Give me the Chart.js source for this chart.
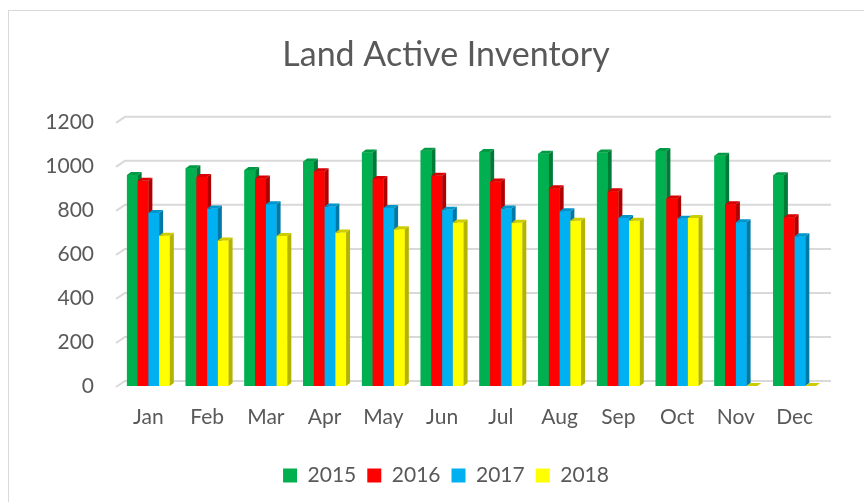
<!DOCTYPE html>
<html>
<head>
<meta charset="utf-8">
<title>Land Active Inventory</title>
<style>
  html, body { margin: 0; padding: 0; background: #fff; }
  #wrap { position: relative; width: 864px; height: 502px; }
</style>
<script src="https://cdn.jsdelivr.net/npm/chart.js@4.4.1/dist/chart.umd.min.js"></script>
</head>
<body>
<div id="wrap"><canvas id="c" width="864" height="502"></canvas></div>
<script>
// 数据
var months = ['Jan', 'Feb', 'Mar', 'Apr', 'May', 'Jun', 'Jul', 'Aug', 'Sep', 'Oct', 'Nov', 'Dec'];
var years = ['2015', '2016', '2017', '2018'];
var yTicks = [0, 200, 400, 600, 800, 1000, 1200];

var v2015 = [958, 989, 981, 1020, 1060, 1069, 1063, 1055, 1060, 1067, 1046, 957];
var v2016 = [932, 949, 943, 975, 940, 955, 929, 898, 884, 852, 825, 766];
var v2017 = [786, 806, 826, 815, 809, 800, 806, 794, 763, 760, 744, 680];
var v2018 = [683, 661, 681, 697, 712, 743, 741, 751, 751, 763, 0, 0];

// 颜色：正面 / 侧面 / 顶面
var fronts = ['#00B050', '#FF0000', '#00B0F0', '#FFFF00'];
var sides  = ['#007A37', '#B00000', '#0079A6', '#B3B300'];
var tops   = ['#009A45', '#D80000', '#0096CC', '#CCCC00'];

var TEXT = '#595959';
var FONT = 'Lato, "Open Sans", sans-serif';
var DX = 4, DY = 3; // 立体深度

// 外框
var frame = {
  id: 'frame',
  beforeDraw: function (chart) {
    var ctx = chart.ctx;
    ctx.save();
    ctx.strokeStyle = '#d9d9d9';
    ctx.lineWidth = 1;
    ctx.strokeRect(8.5, 10.5, 880, 520);
    ctx.restore();
  }
};

// y轴标签不裁剪
var unclip = {
  id: 'unclip',
  afterLayout: function (chart) {
    chart.scales.y.left = 0;
  }
};

// 背墙网格线
var backGrid = {
  id: 'backGrid',
  beforeDatasetsDraw: function (chart) {
    var ys = chart.scales.y, a = chart.chartArea, ctx = chart.ctx;
    ctx.save();
    ctx.strokeStyle = '#d9d9d9';
    ctx.lineWidth = 2;
    yTicks.forEach(function (v) {
      var y = ys.getPixelForValue(v);
      ctx.beginPath();
      ctx.moveTo(a.left - 3, y + 1);
      ctx.lineTo(a.left + 6, y - 5);
      ctx.lineTo(a.right + 7, y - 5);
      ctx.stroke();
    });
    ctx.restore();
  }
};

// 立体柱
var bar3d = {
  id: 'bar3d',
  afterDatasetsDraw: function (chart) {
    var ctx = chart.ctx;
    ctx.save();
    chart.data.datasets.forEach(function (ds, i) {
      var meta = chart.getDatasetMeta(i);
      meta.data.forEach(function (el) {
        var p = el.getProps(['x', 'y', 'base', 'width'], true);
        var l = p.x - p.width / 2, r = p.x + p.width / 2;
        var t = Math.min(p.y, p.base), b = Math.max(p.y, p.base);
        ctx.fillStyle = fronts[i];
        ctx.fillRect(l, t, r - l, b - t);
        ctx.fillStyle = sides[i];
        ctx.beginPath();
        ctx.moveTo(r, t); ctx.lineTo(r + DX, t - DY); ctx.lineTo(r + DX, b - DY); ctx.lineTo(r, b);
        ctx.closePath(); ctx.fill();
        ctx.fillStyle = tops[i];
        ctx.beginPath();
        ctx.moveTo(l, t); ctx.lineTo(l + DX, t - DY); ctx.lineTo(r + DX, t - DY); ctx.lineTo(r, t);
        ctx.closePath(); ctx.fill();
      });
    });
    ctx.restore();
  }
};

var series = [v2015, v2016, v2017, v2018];
var datasets = series.map(function (d, i) {
  return {
    label: years[i],
    data: d,
    backgroundColor: fronts[i],
    borderWidth: 0,
    categoryPercentage: 0.73,
    barPercentage: 1.0
  };
});

new Chart(document.getElementById('c'), {
  type: 'bar',
  data: { labels: months, datasets: datasets },
  plugins: [frame, unclip, backGrid, bar3d],
  options: {
    responsive: false,
    animation: false,
    layout: { padding: { left: 68, right: 40, top: 0, bottom: 6 } },
    plugins: {
      title: {
        display: true,
        text: 'Land Active Inventory',
        color: TEXT,
        font: { family: FONT, size: 34, weight: 'normal' },
        padding: { top: 35, bottom: 46 }
      },
      legend: {
        position: 'bottom',
        labels: {
          color: TEXT,
          font: { family: FONT, size: 21 },
          boxWidth: 14,
          boxHeight: 14,
          padding: 11
        }
      },
      tooltip: { enabled: false }
    },
    scales: {
      x: {
        grid: { display: false },
        border: { display: false },
        ticks: { color: TEXT, font: { family: FONT, size: 21 }, padding: 11 },
        afterFit: function (s) { s.height = 68; }
      },
      y: {
        min: 0,
        max: 1200,
        grid: { display: false },
        border: { display: false },
        ticks: {
          stepSize: 200, color: TEXT, font: { family: FONT, size: 21 }, padding: 17,
          callback: function (v) { return String(v); }
        },
        afterFit: function (s) { s.width = 51; }
      }
    }
  }
});
</script>
</body>
</html>
